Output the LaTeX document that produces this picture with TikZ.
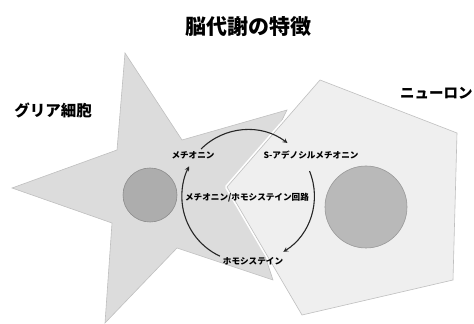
\documentclass[tikz,border=0pt]{standalone}
\usepackage{fontspec}
\newfontfamily\jp{Noto Sans CJK JP}
\definecolor{starfill}{HTML}{DCDCDC}
\definecolor{pentfill}{HTML}{EFEFEF}
\definecolor{nucfill}{HTML}{ADADAD}
\begin{document}
\begin{tikzpicture}[x=1pt, y=1pt, >=stealth, thick, every node/.style={font=\jp\bfseries}]
\useasboundingbox (0,0) rectangle (474,324);
\tikzset{small/.style={font=\jp\bfseries\fontsize{8.6}{9}\selectfont, inner sep=1pt},
  cyclearrow/.style={->, draw=black!85, line width=1.1pt}}

% glia cell (star) and neuron (pentagon)
\filldraw[fill=starfill, draw=black!25, line width=0.6pt] (125,271) -- (182,184) -- (287,214) -- (245,129) -- (273,44)
  -- (177,76) -- (105,1) -- (112,101) -- (12,136) -- (117,174) -- cycle;
\draw[white, line width=4pt, line join=round] (320,244) -- (457,191) -- (453,44) -- (302,9) -- (227,137) -- cycle;
\filldraw[fill=pentfill, draw=black!25, line width=0.6pt] (320,244) -- (457,191) -- (453,44) -- (302,9) -- (227,137) -- cycle;

% nuclei
\node[circle, draw=black!45, fill=nucfill, line width=0.6pt, minimum size=54pt, inner sep=0pt](glianuc) at (150,129) {};
\node[circle, draw=black!40, fill=nucfill!85, line width=0.6pt, minimum size=82pt, inner sep=0pt](neurnuc) at (366,117) {};

% titles
\node[font=\jp\bfseries\fontsize{21}{22}\selectfont](title) at (248,297) {脳代謝の特徴};
\node[font=\jp\bfseries\fontsize{15.5}{16}\selectfont](glia) at (53,214) {グリア細胞};
\node[font=\jp\bfseries\fontsize{14.5}{15}\selectfont, anchor=east, inner sep=1pt](neuron) at (474,231) {ニューロン};

% cycle
\node[circle, minimum size=132pt, inner sep=0pt](cyc) at (248,128) {};
\node[small](met) at (193,169) {メチオニン};
\node[small](sam) at (311,169) {S-アデノシルメチオニン};
\node[small](cycname) at (247,126) {メチオニン/ホモシステイン回路};
\node[small](hcy) at (253,63) {ホモシステイン};

\draw[cyclearrow] (cyc.135) arc[start angle=135, end angle=53, radius=66];
\draw[cyclearrow] (cyc.22) arc[start angle=22, end angle=-58, radius=66];
\draw[cyclearrow] (cyc.-115) arc[start angle=-115, end angle=-207, radius=66];
\end{tikzpicture}
\end{document}
